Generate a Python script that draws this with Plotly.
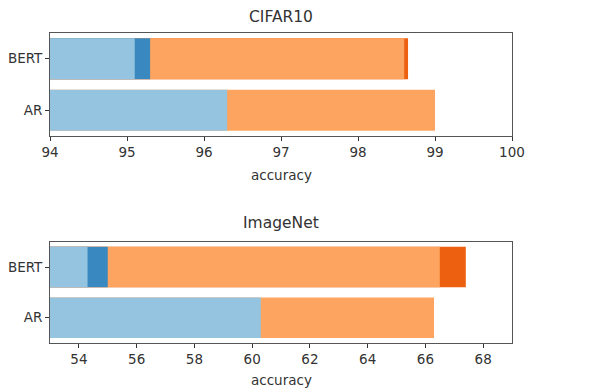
import plotly.graph_objects as go

categories = ["AR", "BERT"]

# CIFAR10 values (accuracy, bars drawn from 0, overlaid)
cifar_dark_orange = [None, 98.65]
cifar_light_orange = [99.0, 98.6]
cifar_dark_blue = [None, 95.3]
cifar_light_blue = [96.3, 95.1]

# ImageNet values
imnet_dark_orange = [None, 67.4]
imnet_light_orange = [66.3, 66.5]
imnet_dark_blue = [None, 55.0]
imnet_light_blue = [60.3, 54.3]

cifar_ticks = [94, 95, 96, 97, 98, 99, 100]
imnet_ticks = [54, 56, 58, 60, 62, 64, 66, 68]

C_DO = "#ec6010"
C_LO = "#fda460"
C_DB = "#3a88c0"
C_LB = "#94c4df"

FONT = "DejaVu Sans"
TXT = "#333333"

fig = go.Figure()

def add_series(vals, color, xa, ya):
    fig.add_trace(go.Bar(
        y=categories, x=vals, base=0, orientation="h", width=0.8,
        marker=dict(color=color, line=dict(width=0)),
        xaxis=xa, yaxis=ya, showlegend=False, hoverinfo="x+y"))

for vals, col in [(cifar_dark_orange, C_DO), (cifar_light_orange, C_LO),
                  (cifar_dark_blue, C_DB), (cifar_light_blue, C_LB)]:
    add_series(vals, col, "x", "y")
for vals, col in [(imnet_dark_orange, C_DO), (imnet_light_orange, C_LO),
                  (imnet_dark_blue, C_DB), (imnet_light_blue, C_LB)]:
    add_series(vals, col, "x2", "y2")

axis_common = dict(showgrid=False, zeroline=False, showline=True, mirror=True,
                   linecolor="#555555", linewidth=1, ticks="outside", ticklen=4,
                   tickcolor="#333333", tickwidth=1,
                   tickfont=dict(family=FONT, size=13.5, color=TXT))

# page has an 8px body offset; figure is sized to fill the rest of the window
OFF = 8
W, H = 609 - OFF, 388 - OFF
mt, mb = 33 - OFF, 45
ph = H - mt - mb

def py(Y):
    # Y: pixel row in the window
    return (H - mb - (Y - OFF)) / ph

fig.update_layout(
    width=W, height=H,
    margin=dict(l=50 - OFF, r=97, t=mt, b=mb, autoexpand=False),
    paper_bgcolor="white", plot_bgcolor="white",
    barmode="overlay",
    xaxis=dict(domain=[0, 1], anchor="y", range=[94, 100], tickvals=cifar_ticks, **axis_common),
    yaxis=dict(domain=[py(136), 1], anchor="x", range=[-0.5, 1.5], type="category",
               categoryorder="array", categoryarray=categories, **axis_common),
    xaxis2=dict(domain=[0, 1], anchor="y2", range=[53, 69], tickvals=imnet_ticks, **axis_common),
    yaxis2=dict(domain=[0, py(241.7)], anchor="x2", range=[-0.5, 1.5], type="category",
                categoryorder="array", categoryarray=categories, **axis_common),
    annotations=[
        dict(text="CIFAR10", x=0.5, y=py(17), xref="paper", yref="paper", showarrow=False,
             xanchor="center", yanchor="middle", font=dict(family=FONT, size=15.5, color=TXT)),
        dict(text="ImageNet", x=0.5, y=py(223), xref="paper", yref="paper", showarrow=False,
             xanchor="center", yanchor="middle", font=dict(family=FONT, size=15.5, color=TXT)),
        dict(text="accuracy", x=0.5, y=py(175), xref="paper", yref="paper", showarrow=False,
             xanchor="center", yanchor="middle", font=dict(family=FONT, size=13.5, color=TXT)),
        dict(text="accuracy", x=0.5, y=py(380), xref="paper", yref="paper", showarrow=False,
             xanchor="center", yanchor="middle", font=dict(family=FONT, size=13.5, color=TXT)),
    ],
)

fig.write_html("out.html")
